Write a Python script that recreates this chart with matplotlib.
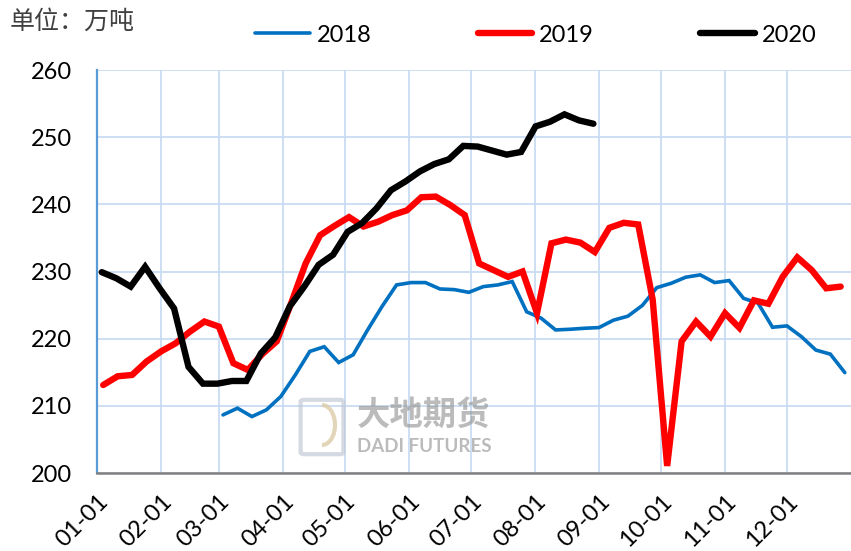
import matplotlib
matplotlib.use("Agg")
import matplotlib.pyplot as plt
from matplotlib.patches import FancyBboxPatch, Arc
import numpy as np

plt.rcParams['font.family'] = ['Lato', 'Noto Sans CJK SC', 'DejaVu Sans']

# ---- data (weekly, x in day-of-year) ----
month_labels = ['01-01', '02-01', '03-01', '04-01', '05-01', '06-01',
                '07-01', '08-01', '09-01', '10-01', '11-01', '12-01']
month_start_days = [0, 31, 59, 90, 120, 151, 181, 212, 243, 273, 304, 334]

series_names = ['2018', '2019', '2020']

start_2018 = 61
vals_2018 = [208.65, 209.65, 208.4, 209.4, 211.4, 214.6, 218.1, 218.8, 216.45, 217.6,
             221.3, 224.8, 228.0, 228.35, 228.35, 227.4, 227.3, 226.9, 227.75, 228.0,
             228.5, 224.0, 223.05, 221.3, 221.4, 221.55, 221.65, 222.75, 223.35, 224.95,
             227.6, 228.25, 229.15, 229.5, 228.35, 228.65, 226.0, 225.3, 221.7, 221.9,
             220.3, 218.3, 217.7, 214.95]

start_2019 = 3
vals_2019 = [213.1, 214.4, 214.6, 216.6, 218.1, 219.3, 221.05, 222.55, 221.8, 216.35,
             215.35, 217.7, 219.6, 225.3, 231.2, 235.4, 236.8, 238.1, 236.7, 237.4,
             238.4, 239.1, 241.05, 241.15, 239.9, 238.4, 231.2, 230.2, 229.2, 230.0,
             223.8, 234.2, 234.75, 234.3, 232.9, 236.5, 237.25, 237.0, 225.8, 201.05,
             219.6, 222.55, 220.3, 223.8, 221.6, 225.7, 225.2, 229.25, 232.1, 230.2,
             227.5, 227.75]

start_2020 = 2.3
vals_2020 = [229.9, 229.0, 227.75, 230.7, 227.5, 224.5, 215.8, 213.3, 213.3, 213.7,
             213.7, 217.8, 220.2, 224.8, 227.75, 231.0, 232.5, 235.9, 237.2, 239.4,
             242.1, 243.4, 244.9, 246.0, 246.7, 248.7, 248.6, 248.0, 247.4, 247.8,
             251.6, 252.3, 253.4, 252.5, 252.0]

colors = ['#0070C0', '#FF0000', '#000000']
widths = [2.6, 4.6, 4.6]

fig = plt.figure(figsize=(8.51, 5.51), dpi=100)
ax = fig.add_axes([97/851, 1-473/551, 1-97/851, (473-70)/551])

for name, start, vals, c, lw in zip(series_names,
                                     [start_2018, start_2019, start_2020],
                                     [vals_2018, vals_2019, vals_2020],
                                     colors, widths):
    x = start + 7 * np.arange(len(vals))
    ax.plot(x, vals, color=c, lw=lw, label=name, solid_capstyle='round',
            solid_joinstyle='miter', zorder=3)

ax.set_xlim(0, 365)
ax.set_ylim(200, 260)
ax.set_yticks(np.arange(200, 261, 10))
ax.set_xticks(month_start_days)
ax.set_xticklabels(month_labels, rotation=45, ha='right', va='top',
                   rotation_mode='anchor')
ax.tick_params(axis='both', length=0, labelsize=17, colors='black')
ax.tick_params(axis='y', pad=18)
ax.tick_params(axis='x', pad=13)
ax.grid(True, color='#C5D9F1', lw=1.2, zorder=0)
ax.set_axisbelow(True)
ax.set_facecolor('none')
for s in ['top', 'right']:
    ax.spines[s].set_visible(False)
ax.spines['left'].set_color('#5B9BD5')
ax.spines['left'].set_linewidth(1.6)
ax.spines['bottom'].set_color('#808080')
ax.spines['bottom'].set_linewidth(1.8)

# watermark logo (faded)
logo = FancyBboxPatch((304/851, 1-452/551), 36/851, 50/551,
                      boxstyle='round,pad=0.004', transform=fig.transFigure,
                      facecolor='none', edgecolor='#c3c9d6', lw=3, alpha=0.7, zorder=1)
fig.patches.append(logo)
arc = Arc((322/851, 1-425/551), 26/851, 40/551, theta1=-90, theta2=90,
          transform=fig.transFigure, color='#dccba6', lw=3, alpha=0.8, zorder=1)
fig.patches.append(arc)
fig.text(357/851, 1-415/551, '大地期货', fontsize=24, color='#8f8f8f', alpha=0.6,
         family=['Noto Sans CJK SC'], fontweight='bold', va='center', ha='left', zorder=1)
fig.text(357/851, 1-447/551, 'DADI FUTURES', fontsize=13.5, color='#8f8f8f', alpha=0.6,
         fontweight='bold', va='center', ha='left', zorder=1)

fig.text(10/851, 1-22/551, '单位：万吨', fontsize=18, color='#404040',
         family=['Noto Sans CJK SC'], va='center', ha='left')

leg = fig.legend(loc='center', bbox_to_anchor=(536/851, 1-35/551), ncol=3,
                 frameon=False, fontsize=17, handlelength=2.3, columnspacing=4.5,
                 handletextpad=0.3)

fig.savefig('out.png', dpi=100)
